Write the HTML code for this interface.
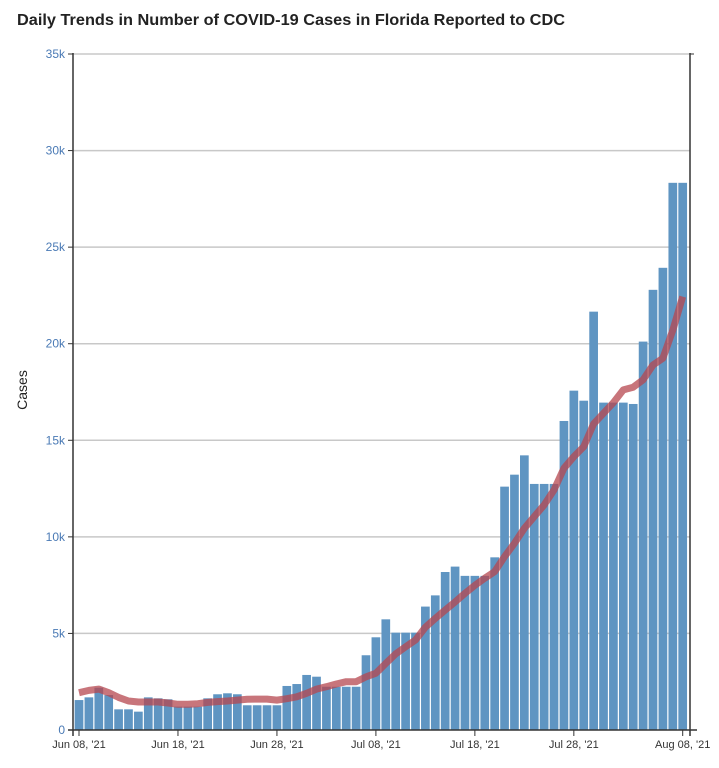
<!DOCTYPE html>
<html><head><meta charset="utf-8"><style>
html,body{margin:0;padding:0;background:#fff;width:719px;height:768px;overflow:hidden}
svg{display:block;font-family:"Liberation Sans",Arial,sans-serif}
</style></head><body>
<svg id="chart" width="719" height="768">
<text x="17" y="25" font-size="16" font-weight="bold" fill="#222" textLength="548" lengthAdjust="spacingAndGlyphs">Daily Trends in Number of COVID-19 Cases in Florida Reported to CDC</text>
<text transform="translate(27,390) rotate(-90)" text-anchor="middle" font-size="14" fill="#222">Cases</text>
<g id="grid"></g><g id="bars"></g><g id="line"></g><g id="axes"></g>
</svg>
<script>
const categoriesStart = '2021-06-08';
const dailyCases = [1550,1690,2190,1810,1070,1070,950,1690,1640,1590,1210,1210,1210,1640,1850,1900,1850,1280,1280,1280,1280,2280,2380,2850,2760,2240,2240,2240,2240,3870,4800,5730,5040,5040,5040,6390,6970,8180,8460,7980,7980,7980,8940,12600,13220,14220,12740,12740,12740,16000,17570,17050,21660,16950,16950,16950,16880,20110,22790,23930,28330,28330];
const avgCases = [1930,2050,2120,1930,1690,1500,1450,1450,1450,1400,1330,1330,1360,1430,1470,1500,1550,1590,1600,1600,1550,1620,1720,1900,2120,2240,2380,2500,2500,2750,2940,3450,3940,4310,4660,5320,5780,6210,6630,7080,7490,7860,8200,8980,9670,10450,11050,11650,12430,13550,14150,14670,15850,16400,16950,17610,17750,18130,18900,19250,20700,22440];
const yTicks = [0,5000,10000,15000,20000,25000,30000,35000];
const yTickLabels = ['0','5k','10k','15k','20k','25k','30k','35k'];
const xTickIdx = [0,10,20,30,40,50,61];
const xTickLabels = ["Jun 08, '21","Jun 18, '21","Jun 28, '21","Jul 08, '21","Jul 18, '21","Jul 28, '21","Aug 08, '21"];

const NS='http://www.w3.org/2000/svg';
const L=73,R=690,T=54,B=730,YMAX=35000;
const step=(682.7-79)/61;
const y=v=>B-(v/YMAX)*(B-T);
const x=i=>79+i*step;
function mk(tag,attrs,parent){const e=document.createElementNS(NS,tag);for(const k in attrs)e.setAttribute(k,attrs[k]);parent.appendChild(e);return e;}
const grid=document.getElementById('grid'),bars=document.getElementById('bars'),line=document.getElementById('line'),axes=document.getElementById('axes');
yTicks.forEach((v,i)=>{
  if(v>0){const g=mk('line',{x1:L,x2:R,y1:y(v),y2:y(v),stroke:'#c8c8c8','stroke-width':1.5},grid);
  
  }
  const tk=mk('line',{x1:L-5,x2:L,y1:y(v),y2:y(v),stroke:'#333'},axes);
  
  
  const t=mk('text',{x:L-8,y:y(v)+4,'text-anchor':'end','font-size':12,fill:'#4a7ab5'},axes);
  t.textContent=yTickLabels[i];
  
  
});
dailyCases.forEach((v,i)=>{
  const b=mk('rect',{x:x(i)-step/2+0.6,y:y(v),width:step-1.2,height:B-y(v),fill:'#5f95c2'},bars);
  
  
});
const p=mk('path',{d:avgCases.map((v,i)=>(i?'L':'M')+x(i).toFixed(1)+','+y(v).toFixed(1)).join(''),fill:'none',stroke:'#b5474f','stroke-opacity':0.75,'stroke-width':7,'stroke-linejoin':'round'},line);


const la=mk('line',{x1:L,x2:L,y1:T-1,y2:B+6,stroke:'#333','stroke-width':1.5},axes);


const ra=mk('line',{x1:R,x2:R,y1:T-1,y2:B+6,stroke:'#333','stroke-width':1.5},axes);


const rt=mk('line',{x1:R,x2:R+4,y1:T,y2:T,stroke:'#333'},axes);


const xa=mk('line',{x1:L-5,x2:R+7,y1:B,y2:B,stroke:'#333','stroke-width':1.5},axes);


xTickIdx.forEach((d,i)=>{
  const tk=mk('line',{x1:x(d),x2:x(d),y1:B,y2:B+6,stroke:'#333'},axes);
  
  
  const t=mk('text',{x:x(d),y:B+18,'text-anchor':'middle','font-size':11,fill:'#333'},axes);
  t.textContent=xTickLabels[i];
  
  
});
</script>
</body></html>
